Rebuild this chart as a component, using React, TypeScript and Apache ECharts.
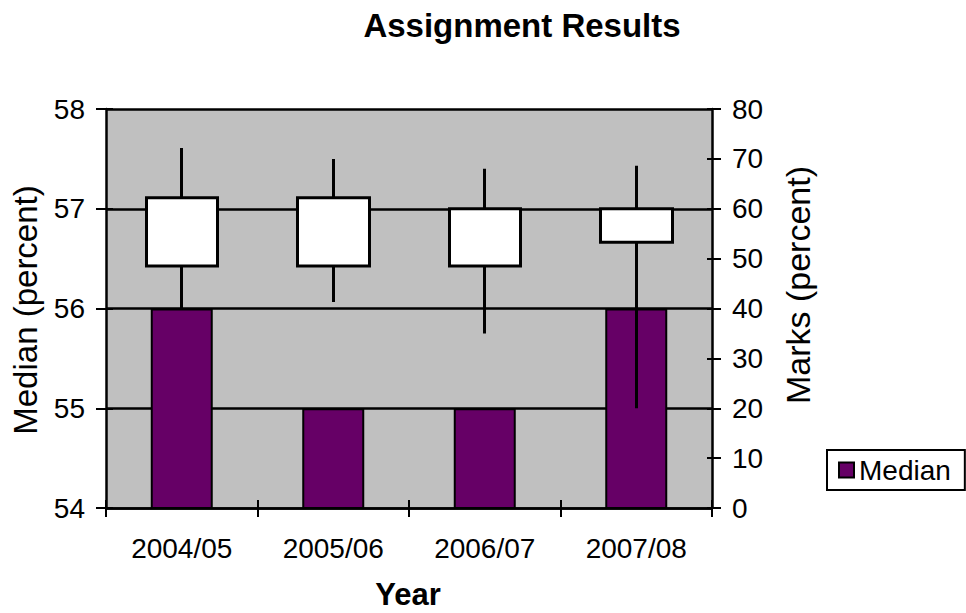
import React, { useEffect, useRef } from "react";
import * as echarts from "echarts";

const categories = ["2004/05", "2005/06", "2006/07", "2007/08"];
const medianValues = [56, 55, 55, 56];
const boxTop = [62.2, 62.2, 60, 60];
const boxBottom = [48.5, 48.5, 48.5, 53.3];
const lowValues = [40, 41.3, 35, 20];
const highValues = [72.2, 70, 68, 68.6];

const FONT = "'Liberation Sans', Arial, sans-serif";

export default function App() {
  const ref = useRef<HTMLDivElement>(null);
  useEffect(() => {
    if (!ref.current) return;
    const chart = echarts.init(ref.current, null, { renderer: "svg" });
    const black = "#000";
    const tickStyle = { color: black, width: 2 };
    const option: any = {
      animation: false,
      backgroundColor: "#fff",
      title: {
        text: "Assignment Results",
        left: 517,
        textAlign: "center",
        top: 4,
        textStyle: { fontFamily: FONT, fontSize: 33, fontWeight: "bold", color: black },
      },
      legend: {
        data: ["Median"],
        left: 827,
        top: 450,
        padding: [6, 14, 6, 11],
        borderColor: black,
        borderWidth: 2,
        itemWidth: 15,
        itemHeight: 15,
        itemGap: 8,
        icon: "rect",
        textStyle: { fontFamily: FONT, fontSize: 28, color: black },
      },
      grid: { left: 106, right: 254, top: 109, bottom: 105, show: true, backgroundColor: "#c0c0c0", borderWidth: 0 },
      graphic: [
        {
          type: "text",
          x: 25,
          y: 310,
          rotation: Math.PI / 2,
          style: { text: "Median (percent)", font: `33px ${FONT}`, fill: black, align: "center", verticalAlign: "middle" },
        },
        {
          type: "text",
          x: 798,
          y: 285,
          rotation: Math.PI / 2,
          style: { text: "Marks (percent)", font: `34px ${FONT}`, fill: black, align: "center", verticalAlign: "middle" },
        },
        {
          type: "text",
          x: 408,
          y: 594,
          style: { text: "Year", font: `bold 31px ${FONT}`, fill: black, align: "center", verticalAlign: "middle" },
        },
      ],
      xAxis: [
        {
          type: "category",
          data: categories,
          axisLine: { show: true, lineStyle: { color: black, width: 2.5 } },
          axisTick: { show: true, length: 9, lineStyle: tickStyle },
          axisLabel: { fontFamily: FONT, fontSize: 28, color: black, margin: 26 },
          splitLine: { show: false },
        },
        {
          type: "category",
          data: categories,
          position: "bottom",
          axisLine: { show: false },
          axisTick: { show: true, inside: true, length: 8, lineStyle: tickStyle },
          axisLabel: { show: false },
          splitLine: { show: false },
        },
      ],
      yAxis: [
        {
          type: "value",
          min: 54,
          max: 58,
          interval: 1,
          position: "left",
          axisLine: { show: true, lineStyle: { color: black, width: 2.5 } },
          axisTick: { show: true, length: 10, lineStyle: tickStyle },
          axisLabel: { fontFamily: FONT, fontSize: 28, color: black, margin: 21 },
          splitLine: { show: true, lineStyle: { color: black, width: 2.5 } },
        },
        {
          type: "value",
          min: 0,
          max: 80,
          interval: 10,
          position: "right",
          axisLine: { show: true, lineStyle: { color: black, width: 2.5 } },
          axisTick: { show: true, length: 9, lineStyle: tickStyle },
          axisLabel: { fontFamily: FONT, fontSize: 28, color: black, margin: 20 },
          splitLine: { show: false },
        },
        {
          type: "value",
          min: 54,
          max: 58,
          interval: 1,
          position: "left",
          axisLine: { show: false },
          axisTick: { show: true, inside: true, length: 7, lineStyle: tickStyle },
          axisLabel: { show: false },
          splitLine: { show: false },
        },
        {
          type: "value",
          min: 0,
          max: 80,
          interval: 10,
          position: "right",
          axisLine: { show: false },
          axisTick: { show: true, inside: true, length: 5, lineStyle: tickStyle },
          axisLabel: { show: false },
          splitLine: { show: false },
        },
      ],
      series: [
        {
          name: "Median",
          type: "bar",
          xAxisIndex: 0,
          yAxisIndex: 0,
          data: medianValues,
          barWidth: 62,
          itemStyle: { color: "#660066", borderColor: black, borderWidth: 2 },
        },
        {
          name: "Marks",
          type: "candlestick",
          xAxisIndex: 0,
          yAxisIndex: 1,
          barWidth: 72,
          data: categories.map((_, i) => [boxBottom[i], boxTop[i], lowValues[i], highValues[i]]),
          itemStyle: { color: "#fff", color0: "#fff", borderColor: black, borderColor0: black, borderWidth: 3 },
        },
      ],
    };
    chart.setOption(option);
    return () => chart.dispose();
  }, []);
  return <div ref={ref} style={{ width: 966, height: 613, position: "absolute", left: 0, top: 0 }} />;
}
